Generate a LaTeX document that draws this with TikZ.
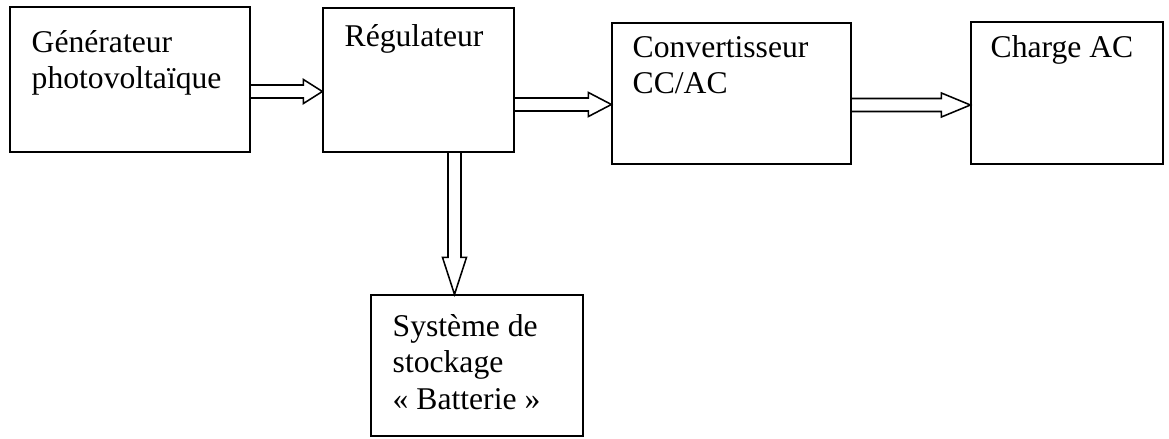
\documentclass[tikz,border=0pt]{standalone}
\usepackage{fontspec}
\setmainfont{Liberation Serif}
\usetikzlibrary{calc}

\tikzset{
  bloc/.style={draw, line width=0.8pt, inner sep=0pt},
  etiq/.style={inner sep=0pt, align=left, anchor=base west, font=\fontsize{22.5}{26}\selectfont},
  fleche/.style={draw, line width=1.1pt, line join=miter},
}
% fleche creuse horizontale : depart, pointe, longueur de tete
\newcommand{\flecheH}[3]{%
  \draw[fleche] ($(#1)+(0,-6.5)$) -- ($(#2)+(-#3,-6.5)$) -- ($(#2)+(-#3,-12)$) -- (#2)
    -- ($(#2)+(-#3,12)$) -- ($(#2)+(-#3,6.5)$) -- ($(#1)+(0,6.5)$);}
% fleche creuse vers le bas
\newcommand{\flecheV}[3]{%
  \draw[fleche] ($(#1)+(-6.5,0)$) -- ($(#2)+(-6.5,-#3)$) -- ($(#2)+(-12,-#3)$) -- (#2)
    -- ($(#2)+(12,-#3)$) -- ($(#2)+(6.5,-#3)$) -- ($(#1)+(6.5,0)$);}

\begin{document}
\begin{tikzpicture}[x=0.025cm,y=-0.025cm]
  \useasboundingbox (0,0) rectangle (1169,439);

  % blocs
  \node[bloc, minimum width=6cm, minimum height=3.625cm] (gen) at (130,79.5) {};
  \node[bloc, minimum width=4.775cm, minimum height=3.6cm] (reg) at (418.5,80) {};
  \node[bloc, minimum width=5.975cm, minimum height=3.525cm] (conv) at (731.5,93.5) {};
  \node[bloc, minimum width=4.8cm, minimum height=3.55cm] (charge) at (1067,93) {};
  \node[bloc, minimum width=5.3cm, minimum height=3.525cm] (bat) at (477,365.5) {};

  % textes (ancre sur la ligne de base de la derniere ligne)
  \node[etiq] (gen-t) at ($(gen.north west)+(22,82.5)$) {Générateur\\photovoltaïque};
  \node[etiq] (reg-t) at ($(reg.north west)+(22,39)$) {Régulateur};
  \node[etiq] (conv-t) at ($(conv.north west)+(21,71.5)$) {Convertisseur\\CC/AC};
  \node[etiq] (charge-t) at ($(charge.north west)+(20,36)$) {Charge AC};
  \node[etiq] (bat-t) at ($(bat.north west)+(22,115)$) {Système de\\stockage\\«~Batterie~»};

  % fleches
  \coordinate (f1a) at (gen.east |- 0,91.5);
  \coordinate (f1b) at (reg.west |- 0,91.5);
  \coordinate (f2a) at (reg.east |- 0,104.5);
  \coordinate (f2b) at (conv.west |- 0,104.5);
  \coordinate (f3a) at (conv.east |- 0,105);
  \coordinate (f3b) at (charge.west |- 0,105);
  \coordinate (f4a) at (reg.south -| 454.5,0);
  \coordinate (f4b) at (bat.north -| 454.5,0);
  \flecheH{f1a}{f1b}{19}
  \flecheH{f2a}{f2b}{23}
  \flecheH{f3a}{f3b}{29}
  \flecheV{f4a}{f4b}{37}
\end{tikzpicture}
\end{document}
